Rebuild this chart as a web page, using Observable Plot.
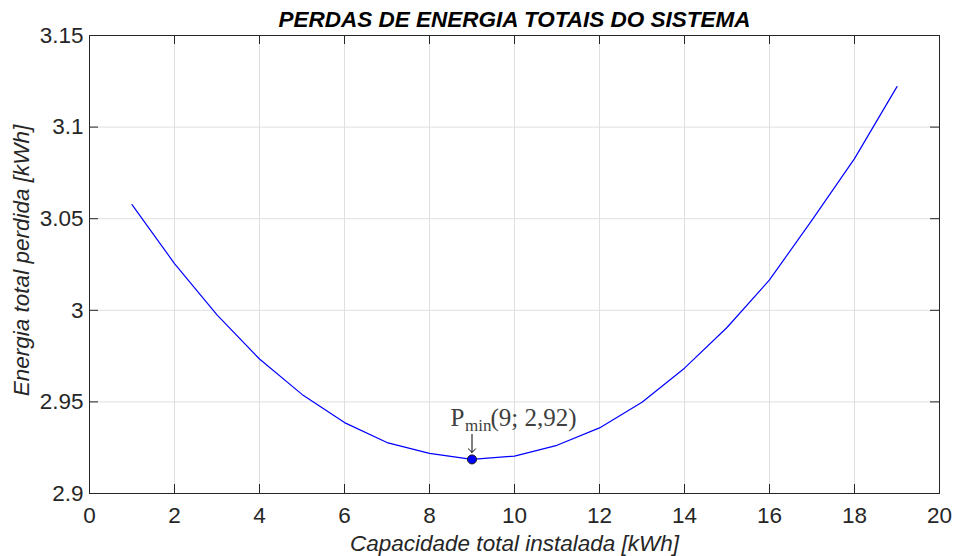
<!DOCTYPE html>
<html>
<head>
<meta charset="utf-8">
<script src="https://cdn.jsdelivr.net/npm/d3@7"></script>
<script src="https://cdn.jsdelivr.net/npm/@observablehq/plot@0.6"></script>
<style>
  html, body { margin: 0; padding: 0; background: #fff; }
</style>
</head>
<body>
<div id="chart"></div>
<script>
const titleText = "PERDAS DE ENERGIA TOTAIS DO SISTEMA";
const xLabel = "Capacidade total instalada [kWh]";
const yLabel = "Energia total perdida [kWh]";
const capacity = [1, 2, 3, 4, 5, 6, 7, 8, 9, 10, 11, 12, 13, 14, 15, 16, 17, 18, 19];
const losses = [3.0577, 3.0255, 2.9975, 2.9734, 2.9541, 2.9387, 2.9278, 2.9219, 2.9186, 2.9204,
                2.9263, 2.9358, 2.9498, 2.9684, 2.9906, 3.0166, 3.0492, 3.0828, 3.1221];
const xTicks = [0, 2, 4, 6, 8, 10, 12, 14, 16, 18, 20];
const yTicks = [2.9, 2.95, 3.0, 3.05, 3.1, 3.15];
const minLabelMain = "P";
const minLabelSub = "min";
const minLabelRest = "(9; 2,92)";
const minIndex = 8;

const data = capacity.map((c, i) => ({x: c, y: losses[i]}));
const minPt = [data[minIndex]];

const W = 953, H = 556, mL = 89, mR = 14, mT = 35, mB = 63;
const plotW = W - mL - mR, plotH = H - mT - mB;
const axisColor = "#262626";
const gridColor = "#dfdfdf";
const fs = 22.5;

const chart = Plot.plot({
  width: W, height: H,
  marginLeft: mL, marginRight: mR, marginTop: mT, marginBottom: mB,
  x: {domain: [0, 20]},
  y: {domain: [2.9, 3.15]},
  style: {fontFamily: "'Liberation Sans', Arial, Helvetica, sans-serif", fontSize: fs + "px", color: axisColor, background: "#fff"},
  marks: [
    Plot.gridX(xTicks, {stroke: gridColor, strokeOpacity: 1, strokeWidth: 1}),
    Plot.gridY(yTicks, {stroke: gridColor, strokeOpacity: 1, strokeWidth: 1}),
    Plot.ruleX(xTicks, {insetTop: plotH - 9, stroke: axisColor}),
    Plot.ruleX(xTicks, {insetBottom: plotH - 9, stroke: axisColor}),
    Plot.ruleY(yTicks, {insetRight: plotW - 9, stroke: axisColor}),
    Plot.ruleY(yTicks, {insetLeft: plotW - 9, stroke: axisColor}),
    Plot.frame({stroke: axisColor, strokeWidth: 1}),
    Plot.axisX(xTicks, {tickSize: 0, tickPadding: 14, label: null, fontSize: fs, fill: axisColor}),
    Plot.axisY(yTicks, {tickSize: 0, tickPadding: 6, label: null, fontSize: fs, fill: axisColor,
      tickFormat: d => String(+d.toFixed(2))}),
    Plot.line(data, {x: "x", y: "y", stroke: "#0000ff", strokeWidth: 1.2}),
    Plot.vector(minPt, {x: "x", y: "y", length: 18, rotate: 180, anchor: "end", dy: -7, stroke: "#000", strokeWidth: 1}),
    Plot.dot(minPt, {x: "x", y: "y", r: 4.5, fill: "#0000ff", stroke: "#111", strokeWidth: 1}),
    Plot.text(minPt, {x: "x", y: "y", text: () => minLabelMain, dx: -21.5, dy: -33, textAnchor: "start", lineAnchor: "bottom",
      fontFamily: "'Liberation Serif', 'Times New Roman', serif", fontSize: 25, fill: "#404040"}),
    Plot.text(minPt, {x: "x", y: "y", text: () => minLabelSub, dx: -7, dy: -28, textAnchor: "start", lineAnchor: "bottom",
      fontFamily: "'Liberation Serif', 'Times New Roman', serif", fontSize: 17, fill: "#404040"}),
    Plot.text(minPt, {x: "x", y: "y", text: () => minLabelRest, dx: 18.5, dy: -33, textAnchor: "start", lineAnchor: "bottom",
      fontFamily: "'Liberation Serif', 'Times New Roman', serif", fontSize: 25, fill: "#404040"}),
    Plot.text([titleText], {frameAnchor: "top", dy: -9, lineAnchor: "bottom", fontSize: 22.5, fontWeight: "bold", fontStyle: "italic", fill: "#000"}),
    Plot.text([xLabel], {frameAnchor: "bottom", dy: 57, lineAnchor: "bottom", fontSize: fs, fontStyle: "italic", fill: axisColor}),
    Plot.text([yLabel], {frameAnchor: "left", dx: -68, dy: -4, rotate: -90, textAnchor: "middle", lineAnchor: "middle", fontSize: fs, fontStyle: "italic", fill: axisColor})
  ]
});
document.getElementById("chart").appendChild(chart);
</script>
</body>
</html>
